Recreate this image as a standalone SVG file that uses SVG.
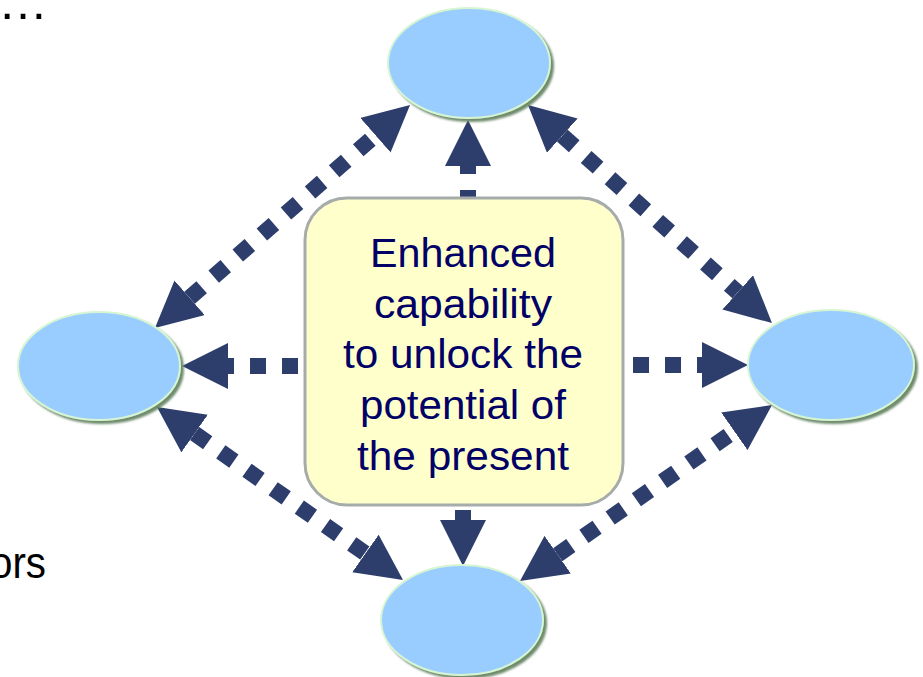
<svg xmlns="http://www.w3.org/2000/svg" width="923" height="677" viewBox="0 0 923 677">
<style>
.node{fill:#99ccff;stroke:#d6f5d2;stroke-width:2;filter:url(#sh)}
.conn{fill:none;stroke:#2e3e6c;stroke-width:16;stroke-dasharray:16 16}
.lbl{font-family:"Liberation Sans",Arial,sans-serif;font-size:41px;fill:#000066;text-anchor:middle}
.side{font-family:"Liberation Sans",Arial,sans-serif;fill:#000000}
</style>
<defs>
<filter id="sh" x="-10%" y="-10%" width="130%" height="130%">
<feDropShadow dx="3" dy="3" stdDeviation="1.2" flood-color="#5f7f5c" flood-opacity="0.9"/>
</filter>
<marker id="ah" viewBox="0 0 46 46" refX="0" refY="23" markerWidth="46" markerHeight="46" markerUnits="userSpaceOnUse" orient="auto-start-reverse">
<path d="M0,0 L46,23 L0,46 Z" fill="#2e3e6c"/>
</marker>
</defs>
<rect width="923" height="677" fill="#ffffff"/>
<text class="side" x="-2" y="19" font-size="50">…</text>
<text class="side" x="-10" y="578" font-size="44" textLength="56" lengthAdjust="spacingAndGlyphs">ors</text>
<g id="connectors">
<line class="conn" x1="298" y1="366" x2="228" y2="366" marker-end="url(#ah)"/>
<line class="conn" x1="633" y1="365" x2="702" y2="365" marker-end="url(#ah)"/>
<line class="conn" x1="468" y1="206" x2="468" y2="166" marker-end="url(#ah)"/>
<line class="conn" x1="463" y1="478" x2="463" y2="520" marker-end="url(#ah)"/>
<line class="conn" x1="189.6" y1="297.7" x2="375.4" y2="135.3" marker-start="url(#ah)" marker-end="url(#ah)"/>
<line class="conn" x1="562.3" y1="135.6" x2="737.7" y2="292.4" marker-start="url(#ah)" marker-end="url(#ah)"/>
<line class="conn" x1="194.6" y1="433.5" x2="365.4" y2="553.5" marker-start="url(#ah)" marker-end="url(#ah)"/>
<line class="conn" x1="557.7" y1="554.7" x2="734.3" y2="431.3" marker-start="url(#ah)" marker-end="url(#ah)"/>
</g>
<g id="center">
<rect x="305" y="198" width="318" height="307" rx="42" fill="#ffffcc" stroke="#a5acaa" stroke-width="3"/>
<text class="lbl" x="463" y="267" textLength="186" lengthAdjust="spacingAndGlyphs">Enhanced</text>
<text class="lbl" x="463" y="318" textLength="178" lengthAdjust="spacingAndGlyphs">capability</text>
<text class="lbl" x="463" y="368" textLength="240" lengthAdjust="spacingAndGlyphs">to unlock the</text>
<text class="lbl" x="463" y="419" textLength="206" lengthAdjust="spacingAndGlyphs">potential of</text>
<text class="lbl" x="463" y="470" textLength="212" lengthAdjust="spacingAndGlyphs">the present</text>
</g>
<g id="node-top"><ellipse class="node" cx="469" cy="63" rx="81" ry="55"/></g>
<g id="node-left"><ellipse class="node" cx="99" cy="366" rx="81" ry="54"/></g>
<g id="node-right"><ellipse class="node" cx="831" cy="365" rx="83" ry="55"/></g>
<g id="node-bottom"><ellipse class="node" cx="462" cy="620" rx="81" ry="55"/></g>
</svg>
